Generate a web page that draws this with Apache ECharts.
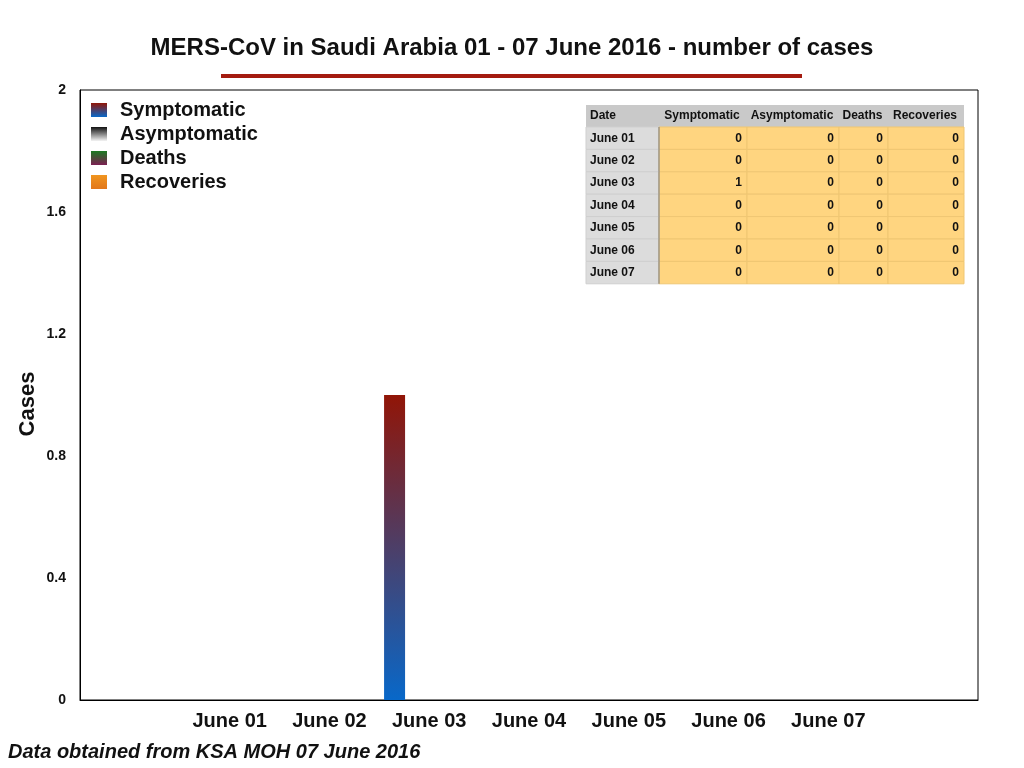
<!DOCTYPE html>
<html>
<head>
<meta charset="utf-8">
<script src="https://cdn.jsdelivr.net/npm/echarts@6/dist/echarts.min.js"></script>
<style>
html,body{margin:0;padding:0;background:#fff;}
#chart{width:1024px;height:768px;}
</style>
</head>
<body>
<div id="chart"></div>
<script>
// ---- data ----
var categories = ['June 01', 'June 02', 'June 03', 'June 04', 'June 05', 'June 06', 'June 07'];
var symptomatic = [0, 0, 1, 0, 0, 0, 0];
var asymptomatic = [0, 0, 0, 0, 0, 0, 0];
var deaths = [0, 0, 0, 0, 0, 0, 0];
var recoveries = [0, 0, 0, 0, 0, 0, 0];
var seriesNames = ['Symptomatic', 'Asymptomatic', 'Deaths', 'Recoveries'];
var tableHeader = ['Date', 'Symptomatic', 'Asymptomatic', 'Deaths', 'Recoveries'];
var yMin = 0, yMax = 2, yStep = 0.4;

var FONT = '"Liberation Sans", Arial, Helvetica, sans-serif';

function grad(top, bottom) {
  return new echarts.graphic.LinearGradient(0, 0, 0, 1, [
    {offset: 0, color: top}, {offset: 1, color: bottom}
  ]);
}
var colors = [
  grad('#911507', '#0868c9'),
  grad('#111111', '#f4f4f4'),
  grad('#1c7a22', '#7c1f52'),
  grad('#f0951f', '#e2771a')
];

// pad categories: empty slot at each end
var xCats = [''].concat(categories).concat(['']);
function pad(arr) { return [null].concat(arr).concat([null]); }
var allSeries = [symptomatic, asymptomatic, deaths, recoveries];

var series = allSeries.map(function (vals, i) {
  return {
    name: seriesNames[i],
    type: 'bar',
    data: pad(vals),
    barWidth: 21,
    barGap: '10%',
    itemStyle: {color: colors[i]},
    emphasis: {disabled: true}
  };
});

// ---- table (graphic) ----
var tbl = {x: 586, y: 105, headH: 22, rowH: 22.4, cols: [586, 659, 747, 839, 888, 964]};
var children = [];
children.push({type: 'rect', shape: {x: tbl.x, y: tbl.y, width: tbl.cols[5] - tbl.x, height: tbl.headH},
  style: {fill: '#c9c9c9'}});
tableHeader.forEach(function (h, c) {
  var x0 = tbl.cols[c], x1 = tbl.cols[c + 1];
  children.push({type: 'text', x: c === 0 ? x0 + 4 : (x0 + x1) / 2 - 1, y: tbl.y + tbl.headH / 2,
    style: {text: h, font: 'bold 12px ' + FONT, fill: '#111', align: c === 0 ? 'left' : 'center', verticalAlign: 'middle'}});
});
categories.forEach(function (cat, r) {
  var y0 = tbl.y + tbl.headH + r * tbl.rowH;
  for (var c = 0; c < 5; c++) {
    var x0 = tbl.cols[c], x1 = tbl.cols[c + 1];
    children.push({type: 'rect', shape: {x: x0, y: y0, width: x1 - x0, height: tbl.rowH},
      style: {fill: c === 0 ? '#dcdcdc' : '#ffd580', stroke: c === 0 ? '#cfcfcf' : '#efc673', lineWidth: 1}});
    var txt = c === 0 ? cat : String(allSeries[c - 1][r]);
    children.push({type: 'text', x: c === 0 ? x0 + 4 : x1 - 5, y: y0 + tbl.rowH / 2,
      style: {text: txt, font: 'bold 12px ' + FONT, fill: '#111', align: c === 0 ? 'left' : 'right', verticalAlign: 'middle'}});
  }
});
children.push({type: 'line', shape: {x1: tbl.cols[1], y1: tbl.y + tbl.headH, x2: tbl.cols[1], y2: tbl.y + tbl.headH + 7 * tbl.rowH},
  style: {stroke: '#8a8a8a', lineWidth: 1.2}});

var chart = echarts.init(document.getElementById('chart'), null, {renderer: 'canvas'});
chart.setOption({
  animation: false,
  backgroundColor: '#fff',
  textStyle: {fontFamily: FONT},
  title: {
    text: 'MERS-CoV in Saudi Arabia 01 - 07 June 2016 - number of cases',
    left: 'center', top: 31,
    textStyle: {fontSize: 24, fontWeight: 'bold', color: '#111', fontFamily: FONT}
  },
  legend: {
    orient: 'vertical', left: 91, top: 100, padding: 0,
    itemWidth: 16, itemHeight: 14, itemGap: 4,
    icon: 'rect',
    selectedMode: false,
    textStyle: {fontSize: 20, fontWeight: 'bold', color: '#111', lineHeight: 20, padding: [0, 0, 0, 8], fontFamily: FONT},
    data: seriesNames
  },
  grid: {left: 80, right: 46, top: 90, bottom: 68, show: true, borderColor: '#000', borderWidth: 1, containLabel: false},
  xAxis: {
    type: 'category', data: xCats,
    axisLine: {show: true, lineStyle: {color: '#000', width: 1}},
    axisTick: {show: false},
    axisLabel: {fontSize: 20, fontWeight: 'bold', color: '#111', margin: 11, interval: 0, fontFamily: FONT},
    splitLine: {show: false}
  },
  yAxis: {
    type: 'value', min: yMin, max: yMax, interval: yStep,
    axisLine: {show: true, lineStyle: {color: '#000', width: 1}},
    axisTick: {show: false},
    axisLabel: {fontSize: 14, fontWeight: 'bold', color: '#111', margin: 14, fontFamily: FONT},
    splitLine: {show: false}
  },
  graphic: [
    {type: 'rect', shape: {x: 221, y: 74, width: 581, height: 4}, style: {fill: '#a41b10'}},
    {type: 'text', x: 28, y: 404, rotation: Math.PI / 2,
      style: {text: 'Cases', font: 'bold 22px ' + FONT, fill: '#111', align: 'center', verticalAlign: 'middle'}},
    {type: 'text', x: 8, y: 752,
      style: {text: 'Data obtained from KSA MOH 07 June 2016', font: 'italic bold 20px ' + FONT, fill: '#111', align: 'left', verticalAlign: 'middle'}},
    {type: 'group', children: children}
  ],
  series: series
});
</script>
</body>
</html>
